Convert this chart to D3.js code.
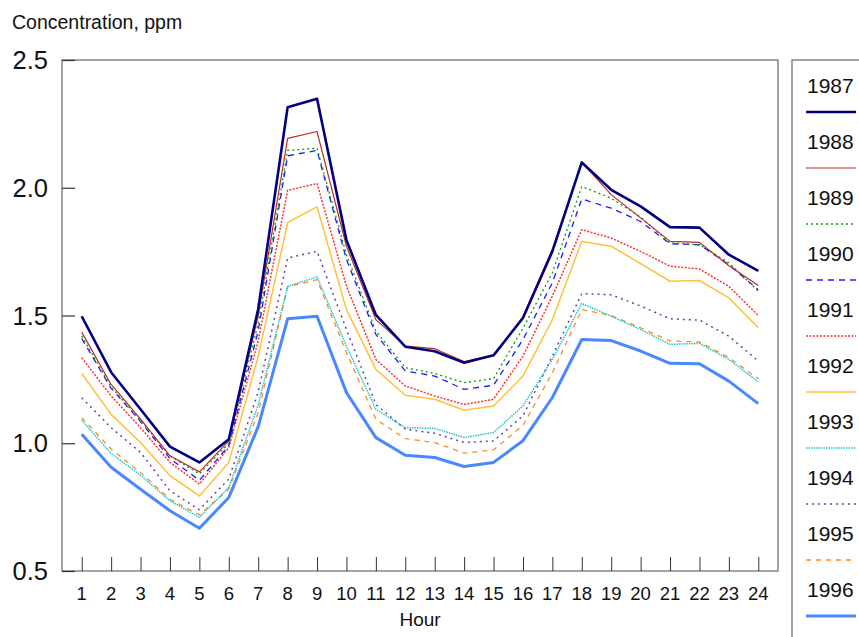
<!DOCTYPE html>
<html><head><meta charset="utf-8">
<script src="https://cdn.jsdelivr.net/npm/d3@7"></script>
<style>body{margin:0;background:#fff;font-family:"Liberation Sans",Arial,sans-serif}</style>
</head><body>
<script>
const hours = d3.range(1, 25);
const years = ["1987","1988","1989","1990","1991","1992","1993","1994","1995","1996"];
const yTicks = [0.5, 1.0, 1.5, 2.0, 2.5];
const s1987 = [1.497,1.278,1.133,0.987,0.925,1.016,1.525,2.315,2.348,1.795,1.502,1.378,1.36,1.315,1.344,1.49,1.751,2.099,1.992,1.927,1.846,1.844,1.738,1.675];
const s1988 = [1.435,1.23,1.094,0.951,0.888,1.009,1.50,2.193,2.22,1.771,1.484,1.38,1.37,1.32,1.345,1.495,1.76,2.099,1.973,1.882,1.79,1.786,1.695,1.617];
const s1989 = [1.42,1.22,1.09,0.95,0.88,1.0,1.47,2.146,2.155,1.738,1.439,1.296,1.273,1.237,1.253,1.45,1.667,2.005,1.959,1.885,1.784,1.777,1.706,1.595];
const s1990 = [1.41,1.215,1.085,0.94,0.855,0.99,1.44,2.125,2.146,1.719,1.426,1.283,1.263,1.211,1.227,1.406,1.628,1.956,1.92,1.868,1.781,1.777,1.699,1.6];
const s1991 = [1.335,1.185,1.061,0.925,0.84,0.983,1.40,1.99,2.016,1.615,1.328,1.224,1.185,1.152,1.172,1.341,1.576,1.836,1.803,1.751,1.693,1.682,1.614,1.5];
const s1992 = [1.273,1.113,1.003,0.873,0.794,0.925,1.34,1.864,1.925,1.523,1.289,1.188,1.172,1.129,1.146,1.263,1.484,1.79,1.771,1.703,1.634,1.637,1.569,1.452];
const s1993 = [1.09,0.96,0.875,0.775,0.71,0.827,1.15,1.614,1.651,1.38,1.133,1.061,1.058,1.022,1.042,1.146,1.328,1.547,1.497,1.445,1.387,1.391,1.328,1.24];
const s1994 = [1.178,1.061,0.964,0.814,0.74,0.86,1.2,1.725,1.751,1.445,1.152,1.055,1.039,1.003,1.009,1.107,1.341,1.586,1.581,1.537,1.487,1.482,1.419,1.322];
const s1995 = [1.10,0.977,0.886,0.781,0.72,0.82,1.12,1.612,1.64,1.355,1.094,1.018,1.003,0.961,0.974,1.07,1.276,1.523,1.5,1.452,1.4,1.397,1.335,1.253];
const s1996 = [1.035,0.906,0.82,0.736,0.667,0.788,1.065,1.487,1.497,1.198,1.022,0.953,0.944,0.909,0.925,1.01,1.179,1.406,1.402,1.361,1.313,1.311,1.243,1.155];
const seriesValues = [s1987,s1988,s1989,s1990,s1991,s1992,s1993,s1994,s1995,s1996];
const colors = ["#000080","#c02a2a","#0a9a0a","#1a1aff","#ff3030","#ffc13a","#22c4c4","#7040a8","#ff8a1a","#4a88ff"];
const widths = [2.6,1.2,1.3,1.3,1.5,1.5,1.5,1.5,1.3,3];
const dashes = [null,null,"2,3","6,5","2,1.5",null,"1.5,1","2,4","5,5",null];

const W = 859, H = 637;
const L = 62, T = 60, R = 778, B = 571;
const svg = d3.select("body").append("svg").attr("width", W).attr("height", H);
const x = d3.scaleLinear().domain([0.33, 24.67]).range([L, R]);
const y = d3.scaleLinear().domain([0.5, 2.5]).range([B, T]);

svg.append("rect").attr("x", L).attr("y", T).attr("width", R - L).attr("height", B - T)
  .attr("fill", "none").attr("stroke", "#666").attr("stroke-width", 1.2);

const yAxis = svg.append("g").attr("transform", `translate(${L},0)`)
  .call(d3.axisRight(y).tickValues(yTicks).tickSize(13).tickFormat(""));
yAxis.select(".domain").remove();
yAxis.selectAll("line").attr("stroke", "#333").attr("stroke-width", 1.2);
svg.selectAll("text.ylab").data(yTicks).enter().append("text").attr("class","ylab")
  .attr("x", 48).attr("y", d => y(d) + 9).attr("text-anchor", "end")
  .attr("font-size", 25.5).attr("fill", "#111").text(d3.format(".1f"));

const xAxis = svg.append("g").attr("transform", `translate(0,${B})`)
  .call(d3.axisTop(x).tickValues(hours).tickSize(14).tickFormat(""));
xAxis.select(".domain").remove();
xAxis.selectAll("line").attr("stroke", "#333").attr("stroke-width", 1);
svg.selectAll("text.xlab").data(hours).enter().append("text").attr("class","xlab")
  .attr("x", d => x(d)).attr("y", 600).attr("text-anchor", "middle")
  .attr("font-size", 18.5).attr("fill", "#111").text(d => d);

svg.append("text").attr("x", 420).attr("y", 626).attr("text-anchor", "middle")
  .attr("font-size", 19).attr("fill", "#111").text("Hour");
svg.append("text").attr("x", 12).attr("y", 29)
  .attr("font-size", 19.5).attr("fill", "#111").text("Concentration, ppm");

const line = d3.line().x((d, i) => x(hours[i])).y(d => y(d));
[9,8,7,6,5,4,3,2,1,0].forEach(k => {
  svg.append("path").datum(seriesValues[k]).attr("d", line)
    .attr("fill", "none").attr("stroke", colors[k]).attr("stroke-width", widths[k])
    .attr("stroke-dasharray", dashes[k]).attr("stroke-linejoin", "round");
});

svg.append("rect").attr("x", 792).attr("y", T).attr("width", 100).attr("height", 640)
  .attr("fill", "none").attr("stroke", "#666").attr("stroke-width", 1.2);
years.forEach((yr, k) => {
  const yy = 93 + k * 56;
  svg.append("text").attr("x", 807).attr("y", yy).attr("font-size", 21).attr("fill", "#111").text(yr);
  svg.append("line").attr("x1", 806).attr("x2", 856).attr("y1", yy + 19).attr("y2", yy + 19)
    .attr("stroke", colors[k]).attr("stroke-width", widths[k]).attr("stroke-dasharray", dashes[k]);
});
</script>
</body></html>
